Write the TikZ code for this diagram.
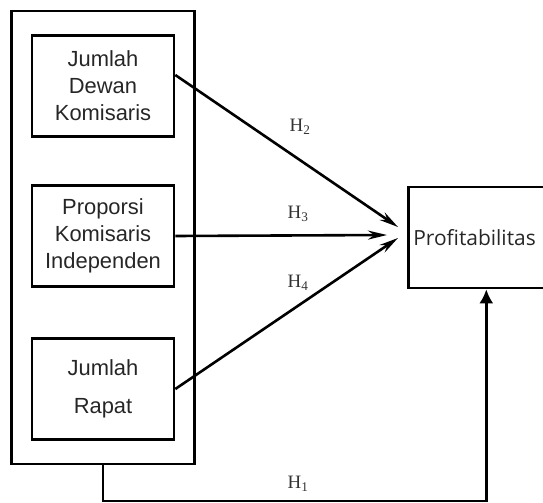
\documentclass[tikz,border=0pt]{standalone}
\usepackage{fontspec}
\setmainfont{Liberation Serif}
\setsansfont{Liberation Sans}
\newfontfamily\profitfont{Open Sans}
\usetikzlibrary{arrows.meta,fit}

\begin{document}
\begin{tikzpicture}[
  x=1bp, y=-1bp,
  line width=2.6bp,
  block/.style={draw,minimum width=142bp,minimum height=101bp,align=center,
    font=\sffamily\fontsize{22}{27}\selectfont,text=black!85},
  hyp/.style={font=\fontsize{19}{22}\selectfont,text=black!80},
  effect/.style={-{Stealth[length=19bp,width=9bp]}}
]
  \useasboundingbox (0,0) rectangle (543,503);

  \node[block] (dewan) at (103,86) {Jumlah\\Dewan\\Komisaris};
  \node[block] (proporsi) at (103,236) {Proporsi\\Komisaris\\Independen};
  \node[block,font=\sffamily\fontsize{22}{38}\selectfont] (rapat) at (103,389) {Jumlah\\Rapat};
  \node[draw,fit=(dewan)(rapat),inner xsep=19bp,inner ysep=23bp] (group) {};

  \node[draw,minimum width=170bp,minimum height=101bp,anchor=west] (profit) at (407,237.5) {};
  \node[anchor=west,inner sep=0pt,font=\profitfont\fontsize{21}{25}\selectfont,
    text=black!85] (profit-text) at ([xshift=5bp]profit.west) {Profitabilitas};

  % arrow tips in front of the dependent variable
  \coordinate (tip2) at (398,227);
  \coordinate (tip3) at (387,235);
  \coordinate (tip4) at (398,238);

  \draw[effect] ([yshift=11bp]dewan.east) -- (tip2);
  \draw[effect] (proporsi.east) -- (tip3);
  \draw[effect] (rapat.east) -- (tip4);
  \draw[-{Latex[length=14bp,width=14bp]}] (group.south) -- ++(0,36) -| ([xshift=-7bp]profit.south);

  \node[hyp] (h2) at (300,127) {H\textsubscript{2}};
  \node[hyp] (h3) at (298,214) {H\textsubscript{3}};
  \node[hyp] (h4) at (298,283) {H\textsubscript{4}};
  \node[hyp] (h1) at (298,484) {H\textsubscript{1}};
\end{tikzpicture}
\end{document}
